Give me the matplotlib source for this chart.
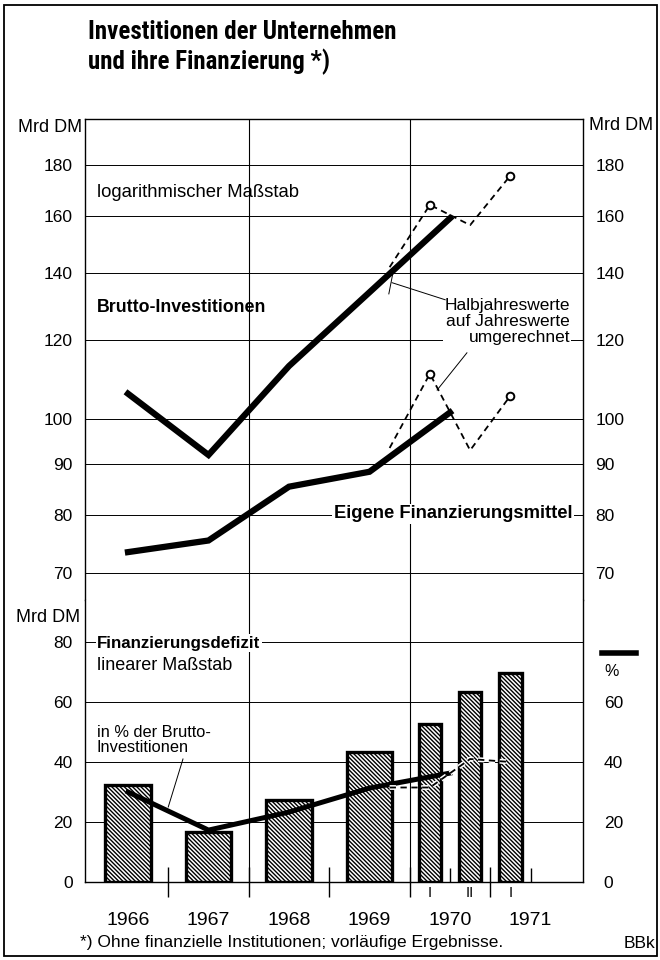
import matplotlib
matplotlib.use("Agg")
import matplotlib.pyplot as plt
import matplotlib.patheffects as pe
from matplotlib.lines import Line2D
from matplotlib.patches import Rectangle
from matplotlib.ticker import NullLocator, FixedLocator, FixedFormatter

plt.rcParams['font.family'] = ['Liberation Sans', 'DejaVu Sans']
plt.rcParams['hatch.linewidth'] = 1.0

# positions on the x axis: 1966 = 0 ... 1970 = 4, half years in between
year_pos = [0, 1, 2, 3, 4]
year_labels = ['1966', '1967', '1968', '1969', '1970']
half_pos = [3.25, 3.75, 4.25, 4.75]     # 1969 II, 1970 I, 1970 II, 1971 I

# Mrd DM, logarithmic panel
brutto = [106, 92, 113, 134, 159]
eigene = [73.5, 75.5, 85.5, 88.5, 101.5]
brutto_half = [142, 164, 156.5, 175.5]
eigene_half = [93.5, 111, 93, 105.5]

# Finanzierungsdefizit, Mrd DM (bars)
bar_labels = ['1966', '1967', '1968', '1969', '1970 I', '1970 II', '1971 I']
bar_pos = [0, 1, 2, 3, 3.75, 4.25, 4.75]
defizit = [32.3, 16.7, 27.3, 43.3, 52.7, 63.3, 69.7]

# Defizit in % der Brutto-Investitionen
pct = [30, 17.3, 23.3, 31.3, 36.3]
pct_half = [31.5, 31.5, 41, 40]

log_ticks = [70, 80, 90, 100, 120, 140, 160, 180]
lin_ticks = [0, 20, 40, 60, 80]

W, H = 660, 960
fig = plt.figure(figsize=(6.6, 9.6), dpi=100)

def fx(px):
    return px / W

def fy(py):
    return 1 - py / H

x0, x1 = 85, 583
ax = fig.add_axes([fx(x0), fy(600), fx(x1) - fx(x0), fy(119) - fy(600)])
axl = fig.add_axes([fx(x0), fy(882), fx(x1) - fx(x0), fy(600) - fy(882)])

xlim = (-0.534, 5.652)

# ---------- upper panel, log scale ----------
ax.set_yscale('log')
ax.set_ylim(65.8, 200)
ax.set_xlim(*xlim)
ax.yaxis.set_major_locator(FixedLocator(log_ticks))
ax.yaxis.set_major_formatter(FixedFormatter([str(t) for t in log_ticks]))
ax.yaxis.set_minor_locator(NullLocator())
ax.set_xticks([])
ax.tick_params(axis='y', length=0, labelsize=12.5, pad=9, labelright=True)
ax.spines['bottom'].set_visible(False)
for s in ['left', 'right', 'top']:
    ax.spines[s].set_linewidth(1.0)
for t in log_ticks:
    ax.axhline(t, color='black', lw=0.7, zorder=1)

ax.plot(year_pos, brutto, color='black', lw=4.5, solid_joinstyle='miter', zorder=4)
ax.plot(year_pos, eigene, color='black', lw=4.5, solid_joinstyle='miter', zorder=4)
ax.plot(half_pos, brutto_half, color='black', lw=1.3, ls=(0, (3.5, 2.5)), zorder=3,
        marker='o', markevery=[1, 3], ms=5.5, mfc='white', mec='black', mew=1.4)
ax.plot(half_pos, eigene_half, color='black', lw=1.3, ls=(0, (3.5, 2.5)), zorder=3,
        marker='o', markevery=[1, 3], ms=5.5, mfc='white', mec='black', mew=1.4)

ax.text(-0.385, 168.7, 'logarithmischer Maßstab', fontsize=13.3, va='center', ha='left')
ax.text(-0.385, 129.3, 'Brutto-Investitionen', fontsize=12.8, fontweight='bold',
        va='center', ha='left')
ax.text(5.49, 125.2, 'Halbjahreswerte\nauf Jahreswerte\numgerechnet', fontsize=12.5,
        ha='right', va='center', multialignment='right', linespacing=1.1, zorder=5,
        bbox=dict(facecolor='white', edgecolor='none', pad=1))
ax.plot([3.94, 3.28], [131.7, 137], color='black', lw=0.7, zorder=5)
ax.plot([3.24, 3.29], [133.5, 140], color='black', lw=0.7, zorder=5)
ax.plot([4.21, 3.84], [116.5, 106.9], color='black', lw=0.7, zorder=5)
ax.text(5.52, 80.3, 'Eigene Finanzierungsmittel', fontsize=13.2, fontweight='bold',
        ha='right', va='center', zorder=5,
        bbox=dict(facecolor='white', edgecolor='none', pad=1))

# ---------- lower panel, linear scale ----------
axl.set_ylim(0, 94)
axl.set_xlim(*xlim)
axl.set_yticks(lin_ticks)
axl.set_yticklabels([str(t) for t in lin_ticks])
axl.tick_params(axis='y', length=0, labelsize=12.5, pad=9)
axl.spines['top'].set_visible(False)
for s in ['left', 'right', 'bottom']:
    axl.spines[s].set_linewidth(1.0)
for t in lin_ticks[1:]:
    axl.axhline(t, color='black', lw=0.7, zorder=1)

axl.xaxis.set_major_locator(FixedLocator([0.5, 1.5, 2.5, 3.5, 4.5]))
axl.xaxis.set_minor_locator(FixedLocator([4, 5]))
axl.tick_params(axis='x', which='major', direction='inout', length=22, width=1.0,
                labelbottom=False)
axl.tick_params(axis='x', which='minor', direction='in', length=10, width=1.0)

axr = axl.twinx()
axr.set_ylim(0, 94)
axr.set_yticks(lin_ticks[:-1])
axr.set_yticklabels([str(t) for t in lin_ticks[:-1]])
axr.tick_params(axis='y', length=0, labelsize=12.5, pad=15)
for s in axr.spines.values():
    s.set_visible(False)

widths = [0.28 if ' ' in b else 0.57 for b in bar_labels]
axl.bar(bar_pos, defizit, width=widths, color='white', edgecolor='black',
        linewidth=2.4, hatch='\\' * 8, zorder=2)

axl.plot(year_pos, pct, color='black', lw=3.6, solid_joinstyle='miter', zorder=4)
axl.plot(half_pos, pct_half, color='black', lw=1.3, ls=(0, (3.5, 2.5)), zorder=4,
         path_effects=[pe.Stroke(linewidth=3.5, foreground='white'), pe.Normal()])

axl.text(-0.385, 79.6, 'Finanzierungsdefizit', fontsize=12.2, fontweight='bold',
         ha='left', va='center', zorder=5,
         bbox=dict(facecolor='white', edgecolor='none', pad=1))
axl.text(-0.385, 72.3, 'linearer Maßstab', fontsize=13, ha='left', va='center')
axl.text(-0.385, 47.3, 'in % der Brutto-\nInvestitionen', fontsize=11.8, ha='left',
         va='center', linespacing=1.0)
axl.plot([0.683, 0.5], [41, 25], color='black', lw=0.7, zorder=5)

for p, lab in zip(year_pos + [5], year_labels + ['1971']):
    axl.text(p, -12.7, lab, fontsize=14, ha='center', va='center')
for p, lab in zip(half_pos[1:], ['I', 'II', 'I']):
    axl.text(p, -3.8, lab, fontsize=10.5, ha='center', va='center')

# vertical grid lines through both panels
for a in (ax, axl):
    for v in (1.5, 3.5):
        a.axvline(v, color='black', lw=0.8, zorder=1)

# ---------- figure texts ----------
fig.text(fx(88), fy(20), 'Investitionen der Unternehmen\nund ihre Finanzierung *)',
         fontsize=18, fontweight='bold', va='top', ha='left', linespacing=1.25,
         family=['Roboto Condensed', 'Liberation Sans', 'DejaVu Sans'])
fig.text(fx(82), fy(128), 'Mrd DM', fontsize=13, ha='right', va='center')
fig.text(fx(589), fy(125), 'Mrd DM', fontsize=13, ha='left', va='center')
fig.text(fx(80), fy(618), 'Mrd DM', fontsize=13, ha='right', va='center')
fig.add_artist(Line2D([fx(602), fx(636)], [fy(653), fy(653)], lw=4, color='black'))
fig.text(fx(604), fy(671), '%', fontsize=11.5, ha='left', va='center')
fig.text(fx(80), fy(943), '*) Ohne finanzielle Institutionen; vorläufige Ergebnisse.',
         fontsize=12.5, ha='left', va='center')
fig.text(fx(655), fy(943), 'BBk', fontsize=12.5, ha='right', va='center')

fig.add_artist(Rectangle((fx(4), fy(956)), fx(657) - fx(4), fy(5) - fy(956),
                         fill=False, edgecolor='black', lw=1.3))

fig.savefig('out.png', dpi=100)
